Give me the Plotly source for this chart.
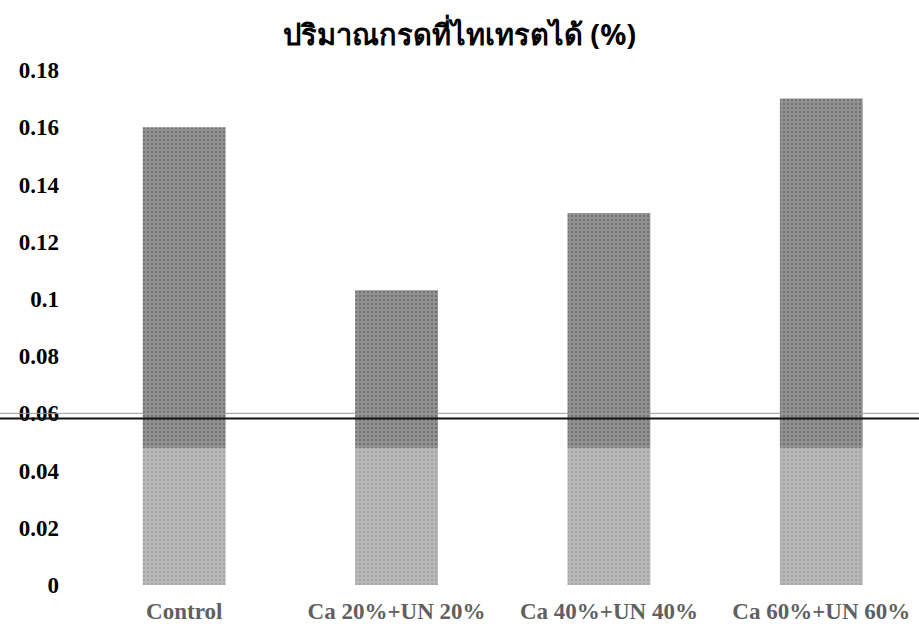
import plotly.graph_objects as go

categories = ["Control", "Ca 20%+UN 20%", "Ca 40%+UN 40%", "Ca 60%+UN 60%"]
values = [0.16, 0.103, 0.13, 0.17]
tick_vals = [0, 0.02, 0.04, 0.06, 0.08, 0.1, 0.12, 0.14, 0.16, 0.18]
tick_text = ["0", "0.02", "0.04", "0.06", "0.08", "0.1", "0.12", "0.14", "0.16", "0.18"]
title_text = "ปริมาณกรดที่ไทเทรตได้ (%)"

fig = go.Figure()
fig.add_trace(go.Bar(
    x=categories, y=values,
    marker=dict(color="#808080", line=dict(width=0),
                pattern=dict(shape=".", fgcolor="#4f4f4f", bgcolor="#939393", size=4, solidity=0.3)),
))

fig.update_layout(
    width=919, height=630,
    margin=dict(l=78, r=0, t=70, b=45),
    paper_bgcolor="white", plot_bgcolor="white",
    showlegend=False,
    bargap=0.61,
    title=dict(text=title_text, x=0.5, xanchor="center", y=0.945, yanchor="middle",
               font=dict(family="Noto Sans, DejaVu Sans, sans-serif", size=29, color="black", weight="bold")),
    xaxis=dict(range=[-0.5, 3.46], showgrid=False, showline=False, ticks="",
               ticklabelstandoff=10,
               tickfont=dict(family="Liberation Serif", size=23, color="#606060", weight="bold")),
    yaxis=dict(range=[0, 0.18], showgrid=False, showline=False, zeroline=False, ticks="",
               tickvals=tick_vals, ticktext=tick_text, ticklabelstandoff=18,
               tickfont=dict(family="Liberation Serif", size=23, color="black", weight="bold")),
    shapes=[
        dict(type="rect", xref="paper", yref="y", x0=0, x1=1, y0=0, y1=0.048,
             fillcolor="rgba(255,255,255,0.35)", line=dict(width=0), layer="above"),
        dict(type="line", xref="paper", yref="y", x0=-0.093, x1=1, y0=0.06, y1=0.06,
             line=dict(color="#999999", width=1), layer="above"),
        dict(type="line", xref="paper", yref="y", x0=-0.093, x1=1, y0=0.0582, y1=0.0582,
             line=dict(color="#111111", width=2), layer="above"),
    ],
)

fig.write_html("out.html")
